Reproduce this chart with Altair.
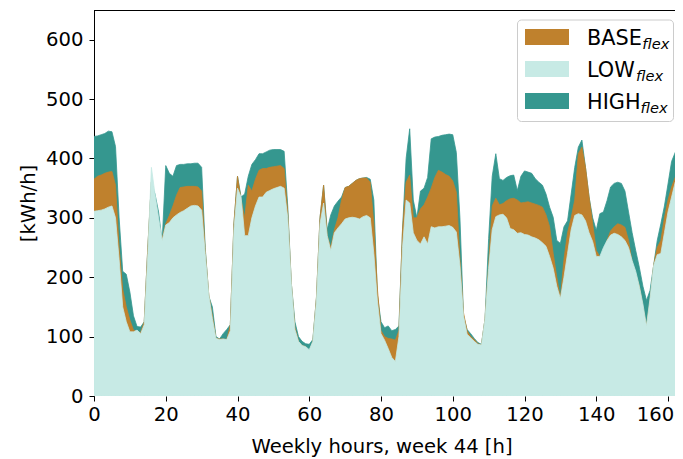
import altair as alt
import pandas as pd

hours = list(range(0, 165))

low = [311, 312, 313, 315, 318, 320, 300, 230, 150, 125,
       108, 108, 111, 105, 120, 240, 385, 340, 300, 262,
       288, 292, 300, 305, 309, 312, 316, 320, 321, 320,
       313, 240, 170, 130, 97, 95, 96, 95, 110, 280,
       350, 335, 270, 270, 300, 320, 335, 335, 343, 346,
       349, 351, 353, 350, 300, 190, 112, 92, 85, 83,
       78, 92, 160, 290, 325, 270, 245, 275, 283, 290,
       298, 300, 301, 300, 298, 302, 304, 300, 240, 160,
       105, 94, 80, 65, 58, 100, 250, 330, 325, 275,
       262, 256, 268, 256, 285, 283, 285, 285, 286, 287,
       284, 276, 220, 135, 104, 98, 92, 87, 86, 130,
       215, 280, 302, 305, 306, 300, 282, 280, 274, 275,
       272, 271, 268, 266, 263, 258, 252, 235, 215, 185,
       164, 200, 240, 280, 304, 307, 305, 295, 275, 260,
       235, 235, 250, 262, 271, 274, 272, 268, 262, 250,
       228, 210, 185, 155, 118, 165, 220, 238, 240, 275,
       310, 335, 360, 368, 368]

base = [365, 370, 372, 375, 377, 378, 355, 250, 180, 150,
        128, 111, 108, 107, 125, 250, 360, 300, 265, 265,
        290, 304, 320, 338, 351, 352, 353, 353, 353, 352,
        345, 245, 170, 135, 97, 96, 96, 95, 120, 290,
        370, 330, 300, 355, 345, 365, 380, 383, 383, 385,
        386, 387, 388, 383, 310, 190, 115, 92, 85, 83,
        74, 92, 165, 300, 355, 270, 250, 280, 300, 330,
        351, 353, 358, 363, 366, 367, 367, 360, 290, 180,
        110, 100, 97, 96, 94, 110, 280, 360, 372, 300,
        300, 315, 322, 335, 350, 368, 380, 377, 373, 370,
        362, 343, 230, 140, 110, 100, 95, 88, 86, 130,
        220, 320, 333, 322, 324, 329, 332, 333, 330, 325,
        326, 327, 325, 323, 321, 318, 305, 285, 240, 200,
        165, 230, 275, 300, 330, 408, 419, 385, 335, 290,
        245, 235, 225, 262, 278, 285, 290, 288, 284, 262,
        225, 205, 185, 150, 118, 160, 220, 250, 262, 300,
        330, 352, 368, 378, 385]

high = [437, 438, 440, 442, 446, 445, 420, 300, 210, 205,
        175, 135, 117, 116, 125, 250, 360, 340, 310, 260,
        388, 375, 370, 388, 390, 390, 391, 391, 392, 392,
        385, 250, 168, 150, 100, 96, 105, 112, 120, 290,
        370, 335, 340, 370, 390, 398, 408, 408, 411, 414,
        415, 415, 415, 412, 320, 190, 125, 100, 92, 88,
        87, 95, 165, 300, 355, 280, 305, 320, 328, 335,
        351, 353, 358, 363, 366, 367, 368, 365, 330, 170,
        125, 115, 118, 110, 112, 118, 280, 400, 450, 330,
        300, 345, 350, 368, 433, 436, 437, 439, 440, 441,
        440, 410, 300, 135, 112, 105, 97, 90, 87, 130,
        265, 370, 408, 366, 363, 368, 371, 372, 346, 370,
        379, 377, 375, 366, 360, 355, 340, 318, 301, 262,
        257, 285, 295, 340, 385, 419, 431, 385, 335, 300,
        279, 307, 310, 329, 352, 358, 360, 358, 345, 310,
        275, 245, 217, 185, 161, 178, 220, 262, 290, 320,
        357, 395, 410, 419, 425]

series_names = ["BASE", "LOW", "HIGH"]
series_sub = ["flex", "flex", "flex"]
series_colors = ["#bf812d", "#c7eae5", "#35978f"]

x_ticks = [0, 20, 40, 60, 80, 100, 120, 140, 160]
y_ticks = [0, 100, 200, 300, 400, 500, 600]

FONT = "DejaVu Sans"
W, H = 581, 386
XMAX = 161.95

df = pd.DataFrame({"hour": hours, "BASE": base, "LOW": low, "HIGH": high})

xscale = alt.Scale(domain=[0, XMAX], nice=False, zero=False)
yscale = alt.Scale(domain=[0, 650], nice=False)

xaxis = alt.Axis(values=x_ticks, title="Weekly hours, week 44 [h]", grid=False,
                 domain=False, tickColor="black", tickSize=5, tickWidth=1,
                 labelFont=FONT, labelFontSize=19.6, labelColor="black",
                 labelPadding=4, labelFlush=False, labelOverlap=False,
                 labelOffset=alt.ConditionalAxisNumber(
                     condition={"test": "datum.value >= 160", "value": -13}, value=0),
                 titleFont=FONT, titleFontSize=19.6,
                 titleFontWeight="normal", titleColor="black",
                 titleX=287.5, titleY=56, titleBaseline="alphabetic")
yaxis = alt.Axis(values=y_ticks, title="[kWh/h]", grid=False,
                 domain=True, domainColor="black", domainWidth=1,
                 tickColor="black", tickSize=5, tickWidth=1,
                 labelFont=FONT, labelFontSize=19.6, labelColor="black",
                 labelPadding=6, titleFont=FONT, titleFontSize=19.6,
                 titleFontWeight="normal", titleColor="black",
                 titleX=-60, titleBaseline="alphabetic")

base_chart = alt.Chart(df)
layers = []
# draw order: HIGH (back), BASE, LOW (front)
for name in ["HIGH", "BASE", "LOW"]:
    col = series_colors[series_names.index(name)]
    layers.append(base_chart.mark_area(color=col, opacity=1, stroke=col,
                                       strokeWidth=0.8, clip=True).encode(
        x=alt.X("hour:Q", scale=xscale, axis=xaxis),
        y=alt.Y(f"{name}:Q", scale=yscale, axis=yaxis)))

one = pd.DataFrame({"k": [0]})
top_rule = alt.Chart(one).mark_rule(color="black", strokeWidth=1).encode(
    x=alt.value(0), x2=alt.value(W), y=alt.value(0.5))
layers.append(top_rule)

# legend
box = alt.Chart(one).mark_rect(fill="white", fillOpacity=0.8, stroke="#cccccc",
                               strokeWidth=1, cornerRadius=4).encode(
    x=alt.value(423.5), x2=alt.value(579.5), y=alt.value(10), y2=alt.value(111.5))
layers.append(box)
sub_x = [548.3, 542.0, 546.5]
for i, (name, sub, col) in enumerate(zip(series_names, series_sub, series_colors)):
    ldf = pd.DataFrame({"label": [name], "sub": [sub]})
    lc = alt.Chart(ldf)
    layers.append(lc.mark_rect(color=col).encode(
        x=alt.value(431), x2=alt.value(475),
        y=alt.value(19 + 32 * i), y2=alt.value(35 + 32 * i)))
    layers.append(lc.mark_text(font=FONT, fontSize=20.8, color="black", align="left",
                               baseline="alphabetic").encode(
        x=alt.value(493), y=alt.value(35 + 32 * i), text="label:N"))
    layers.append(lc.mark_text(font=FONT, fontSize=14.6, fontStyle="italic", color="black",
                               align="left", baseline="alphabetic").encode(
        x=alt.value(sub_x[i]), y=alt.value(38.5 + 32 * i), text="sub:N"))

chart = alt.layer(*layers).properties(
    width=W, height=H,
    autosize=alt.AutoSizeParams(type="none"),
    padding={"left": 86, "top": 2, "right": 0, "bottom": 62},
).configure_view(stroke=None)

chart.save("out.html", embed_options={"renderer": "svg", "actions": False})
